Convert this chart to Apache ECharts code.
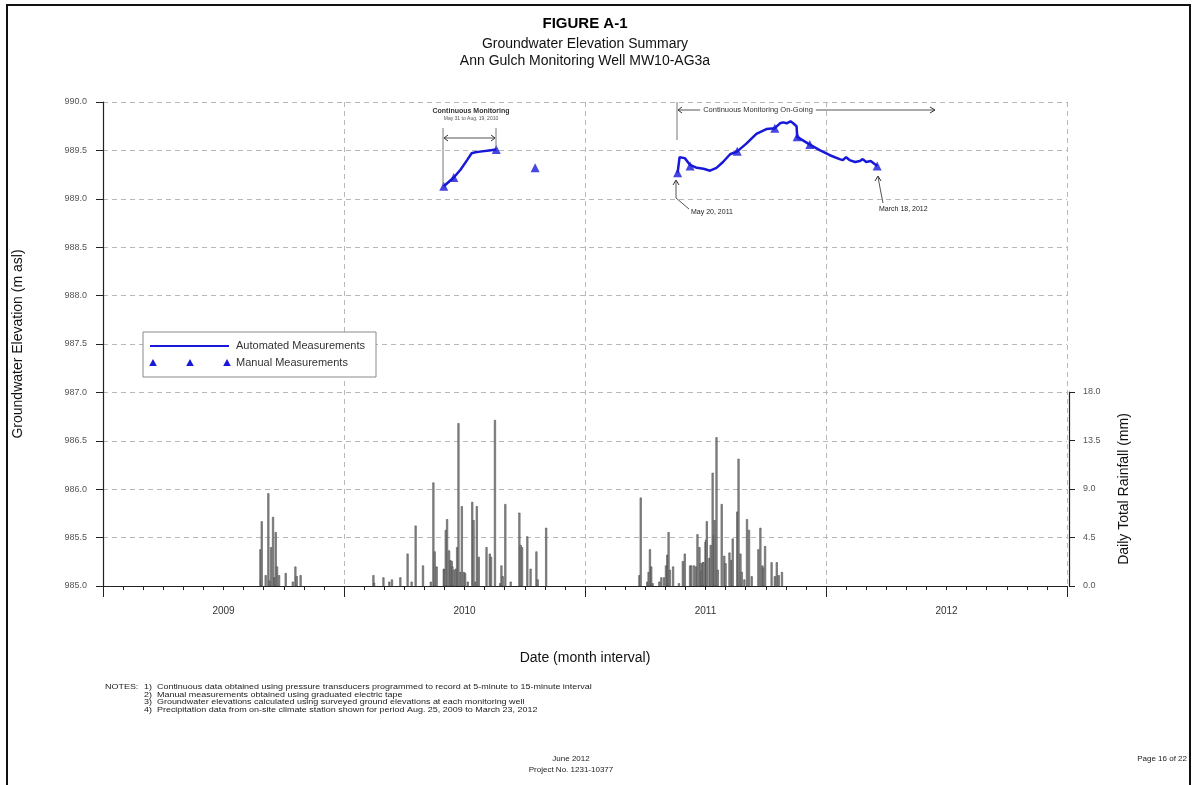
<!DOCTYPE html>
<html><head><meta charset="utf-8">
<script src="https://cdn.jsdelivr.net/npm/echarts@6/dist/echarts.min.js"></script>
<style>html,body{margin:0;padding:0;background:#fff}#c{width:1193px;height:785px}</style>
</head><body><div id="c"></div>
<script>
// ---------- DATA ----------
const yearLabels = ['2009','2010','2011','2012'];
const elevTicks = [985.0, 985.5, 986.0, 986.5, 987.0, 987.5, 988.0, 988.5, 989.0, 989.5, 990.0];
const rainTicks = [0.0, 4.5, 9.0, 13.5, 18.0];

const auto2010Dates = ['2010-05-31','2010-06-15','2010-06-25','2010-07-05','2010-07-12','2010-07-18','2010-07-28','2010-08-08','2010-08-19'];
const auto2010Elev  = [989.13, 989.22, 989.30, 989.40, 989.47, 989.48, 989.49, 989.50, 989.51];

const auto2011Dates = ['2011-05-20','2011-05-23','2011-05-26','2011-05-31','2011-06-08','2011-06-18','2011-06-28','2011-07-08','2011-07-18','2011-07-28','2011-08-08','2011-08-19','2011-09-02','2011-09-17','2011-10-02','2011-10-15','2011-10-23','2011-10-28','2011-11-02','2011-11-08','2011-11-12','2011-11-17','2011-11-18','2011-12-07','2011-12-23','2012-01-07','2012-01-22','2012-01-27','2012-02-01','2012-02-06','2012-02-14','2012-02-21','2012-02-25','2012-03-01','2012-03-08','2012-03-12','2012-03-18'];
const auto2011Elev  = [989.27, 989.43, 989.45, 989.42, 989.35, 989.32, 989.31, 989.29, 989.32, 989.38, 989.46, 989.49, 989.57, 989.67, 989.72, 989.73, 989.78, 989.79, 989.78, 989.80, 989.78, 989.75, 989.64, 989.56, 989.50, 989.45, 989.41, 989.40, 989.43, 989.40, 989.38, 989.39, 989.41, 989.38, 989.39, 989.37, 989.34];

const manualDates = ['2010-05-31','2010-06-15','2010-08-19','2010-10-17','2011-05-20','2011-06-08','2011-08-19','2011-10-15','2011-11-18','2011-12-07','2012-03-18'];
const manualElev  = [989.13, 989.22, 989.51, 989.32, 989.27, 989.34, 989.49, 989.73, 989.64, 989.56, 989.34];

const rainDates = [
 '2009-08-27','2009-08-28','2009-08-29','2009-09-04','2009-09-08','2009-09-10','2009-09-12','2009-09-15','2009-09-17','2009-09-19','2009-09-21','2009-09-24','2009-10-04','2009-10-15','2009-10-19','2009-10-21','2009-10-27',
 '2010-02-14','2010-02-15','2010-02-28','2010-03-09','2010-03-13','2010-03-26','2010-04-06','2010-04-12','2010-04-18','2010-04-29','2010-05-11','2010-05-15','2010-05-17','2010-05-20','2010-05-31','2010-06-01','2010-06-03','2010-06-05','2010-06-08','2010-06-10','2010-06-12','2010-06-13','2010-06-15','2010-06-18','2010-06-20','2010-06-22','2010-06-25','2010-06-27','2010-06-30','2010-07-02','2010-07-06','2010-07-13','2010-07-15','2010-07-18','2010-07-20','2010-07-23','2010-08-04','2010-08-09','2010-08-11','2010-08-17','2010-08-25','2010-08-27','2010-08-29','2010-09-02','2010-09-10','2010-09-23','2010-09-25','2010-09-27','2010-10-05','2010-10-10','2010-10-19','2010-10-21','2010-11-03',
 '2011-03-23','2011-03-25','2011-04-04','2011-04-06','2011-04-08','2011-04-10','2011-04-12','2011-04-22','2011-04-25','2011-04-29','2011-05-02','2011-05-04','2011-05-06','2011-05-08','2011-05-13','2011-05-22','2011-05-28','2011-05-31','2011-06-08','2011-06-10','2011-06-14','2011-06-17','2011-06-19','2011-06-22','2011-06-24','2011-06-25','2011-06-27','2011-06-28','2011-07-01','2011-07-02','2011-07-03','2011-07-07','2011-07-09','2011-07-12','2011-07-14','2011-07-15','2011-07-18','2011-07-20','2011-07-26','2011-07-30','2011-08-01','2011-08-07','2011-08-10','2011-08-12','2011-08-19','2011-08-21','2011-08-24','2011-08-26','2011-08-30','2011-09-03','2011-09-06','2011-09-10','2011-09-20','2011-09-23','2011-09-26','2011-09-27','2011-09-30','2011-10-10','2011-10-15','2011-10-18','2011-10-21','2011-10-26'
];
const rainMm = [
 3.4, 0.5, 6.0, 1.0, 8.6, 0.5, 3.6, 6.4, 0.8, 5.0, 1.8, 1.0, 1.2, 0.4, 1.8, 0.9, 1.0,
 1.0, 0.3, 0.8, 0.4, 0.6, 0.8, 3.0, 0.4, 5.6, 1.9, 0.4, 9.6, 3.2, 1.8, 1.6, 1.5, 5.2, 6.2, 3.3, 2.4, 2.3, 1.8, 1.5, 1.6, 3.6, 15.1, 1.3, 7.4, 1.3, 1.2, 0.4, 7.8, 6.1, 0.4, 7.4, 2.7, 3.6, 3.0, 2.7, 15.4, 0.25, 1.9, 0.9, 7.6, 0.4, 6.8, 3.8, 3.6, 4.6, 1.6, 3.2, 0.6, 5.4,
 1.0, 8.2, 0.4, 1.3, 3.4, 1.8, 0.25, 0.4, 0.8, 0.8, 1.9, 2.9, 5.0, 1.5, 1.8, 0.25, 2.3, 3.0, 1.9, 1.9, 1.9, 1.8, 4.8, 3.6, 2.1, 1.4, 2.2, 2.2, 4.1, 4.3, 6.0, 2.6, 3.8, 10.5, 4.7, 6.1, 13.8, 1.5, 7.6, 2.8, 2.1, 3.1, 2.4, 4.4, 6.9, 11.8, 3.0, 1.3, 0.6, 6.2, 5.2, 0.9, 3.4, 5.4, 1.9, 1.7, 3.7, 2.2, 0.9, 2.2, 1.0, 1.3
];

// ---------- HELPERS ----------
// months since 2009-01-01 (x axis unit)
function toM(s){
  const p = s.split('-').map(Number);
  const dim = new Date(p[0], p[1], 0).getDate();
  return (p[0]-2009)*12 + (p[1]-1) + (p[2]-1)/dim;
}
const pairs = (d, v) => d.map((s, i) => [toM(s), v[i]]);

const FONT = '"Liberation Sans", Arial, sans-serif';
const BLUE = '#1818d8';
const GRID = { left: 103, right: 126, top: 102, bottom: 199 };

const chart = echarts.init(document.getElementById('c'), null, { renderer: 'canvas' });

function tri(cx, cy, s){ return [[cx, cy - s], [cx + s*0.95, cy + s*0.75], [cx - s*0.95, cy + s*0.75]]; }
function ln(x1,y1,x2,y2,c,w){ return { type:'line', shape:{x1,y1,x2,y2}, style:{stroke:c||'#555', lineWidth:w||1}, z:20 }; }
function pl(pts,c,w){ return { type:'polyline', shape:{points:pts}, style:{stroke:c||'#555', lineWidth:w||1, fill:null}, z:20 }; }
function tx(x,y,t,o,extra){ return Object.assign({ type:'text', x, y, z:21, style:Object.assign({ text:t, font:'11px '+FONT, fill:'#222', textAlign:'left', textVerticalAlign:'middle' }, o||{}) }, extra||{}); }

const notes = [
 '1)  Continuous data obtained using pressure transducers programmed to record at 5-minute to 15-minute interval',
 '2)  Manual measurements obtained using graduated electric tape',
 '3)  Groundwater elevations calculated using surveyed ground elevations at each monitoring well',
 '4)  Precipitation data from on-site climate station shown for period Aug. 25, 2009 to March 23, 2012'
];
const NOTE_STYLE = { font:'8px '+FONT, fill:'#222' };
const NOTE_SCALE = { scaleX:1.12 };

const graphics = [
  { type:'rect', shape:{x:7, y:5, width:1183, height:800}, style:{stroke:'#111', lineWidth:2, fill:null}, z:30 },
  tx(585, 24, 'FIGURE A-1', { font:'bold 15px '+FONT, textAlign:'center', fill:'#000' }),
  tx(585, 44, 'Groundwater Elevation Summary', { font:'14px '+FONT, textAlign:'center', fill:'#111' }),
  tx(585, 61, 'Ann Gulch Monitoring Well MW10-AG3a', { font:'14px '+FONT, textAlign:'center', fill:'#111' }),
  // legend
  { type:'rect', shape:{x:143, y:332, width:233, height:45}, style:{stroke:'#8a8a8a', lineWidth:1, fill:'#fff'}, z:15 },
  ln(150, 346, 229, 346, BLUE, 2),
  tx(236, 346, 'Automated Measurements', { font:'11px '+FONT, fill:'#333' }),
  { type:'polygon', shape:{points:tri(153,363,4)}, style:{fill:BLUE}, z:20 },
  { type:'polygon', shape:{points:tri(190,363,4)}, style:{fill:BLUE}, z:20 },
  { type:'polygon', shape:{points:tri(227,363,4)}, style:{fill:BLUE}, z:20 },
  tx(236, 363, 'Manual Measurements', { font:'11px '+FONT, fill:'#333' }),
  // 2010 annotation
  tx(471, 111, 'Continuous Monitoring', { font:'bold 7px '+FONT, textAlign:'center', fill:'#333' }),
  tx(471, 119, 'May 31 to Aug. 19, 2010', { font:'5px '+FONT, textAlign:'center', fill:'#555' }),
  ln(443, 128, 443, 185, '#777', 1),
  ln(496, 128, 496, 148, '#777', 1),
  ln(444, 138, 495, 138, '#555', 1),
  pl([[448,135],[444,138],[448,141]], '#333', 1),
  pl([[491,135],[495,138],[491,141]], '#333', 1),
  // 2011 annotation
  ln(677, 102, 677, 140, '#777', 1),
  ln(678, 110, 935, 110, '#555', 1),
  pl([[682,107],[678,110],[682,113]], '#333', 1),
  pl([[930,107],[935,110],[930,113]], '#333', 1),
  tx(758, 110, 'Continuous Monitoring On-Going', { font:'7.5px '+FONT, textAlign:'center', fill:'#333', backgroundColor:'#fff', padding:[1,3] }),
  ln(676, 181, 676, 198, '#555', 1),
  ln(676, 198, 689, 209, '#555', 1),
  pl([[673,185],[676,180],[679,185]], '#333', 1),
  tx(691, 212, 'May 20, 2011', { font:'7px '+FONT, fill:'#222' }),
  pl([[878,177],[881,193],[883,203]], '#555', 1),
  pl([[875,181],[878,176],[881,181]], '#333', 1),
  tx(879, 209, 'March 18, 2012', { font:'7px '+FONT, fill:'#222' }),
  // notes
  tx(105, 687, 'NOTES:', NOTE_STYLE, NOTE_SCALE),
  tx(144, 687, notes[0], NOTE_STYLE, NOTE_SCALE),
  tx(144, 694.5, notes[1], NOTE_STYLE, NOTE_SCALE),
  tx(144, 702, notes[2], NOTE_STYLE, NOTE_SCALE),
  tx(144, 709.5, notes[3], NOTE_STYLE, NOTE_SCALE),
  // footer
  tx(571, 759, 'June 2012', { font:'8px '+FONT, textAlign:'center', fill:'#222' }),
  tx(571, 770, 'Project No. 1231-10377', { font:'8px '+FONT, textAlign:'center', fill:'#222' }),
  tx(1187, 759, 'Page 16 of 22', { font:'8px '+FONT, textAlign:'right', fill:'#222' })
];

const option = {
  animation: false,
  backgroundColor: '#fff',
  textStyle: { fontFamily: FONT },
  grid: [
    { left: GRID.left, right: GRID.right, top: GRID.top, bottom: GRID.bottom },
    { left: GRID.left, right: GRID.right, top: 392, bottom: GRID.bottom }
  ],
  xAxis: [
    { // monthly ticks + year labels
      type:'value', gridIndex:0, min:0, max:48, interval:1, position:'bottom',
      axisLine:{ show:true, onZero:false, lineStyle:{ color:'#222', width:1 } },
      axisTick:{ show:true, length:4, lineStyle:{ color:'#222' } },
      axisLabel:{ show:true, margin:20, fontSize:10, color:'#333', fontFamily:FONT,
        formatter: v => (Math.round(v) % 12 === 6) ? yearLabels[Math.floor(Math.round(v)/12)] : '' },
      splitLine:{ show:false },
      name:'Date (month interval)', nameLocation:'middle', nameGap:65,
      nameTextStyle:{ fontSize:14, color:'#111', fontFamily:FONT }
    },
    { // yearly gridlines + long ticks
      type:'value', gridIndex:0, min:0, max:48, interval:12, position:'bottom',
      axisLine:{ show:false },
      axisTick:{ show:true, length:11, lineStyle:{ color:'#222' } },
      axisLabel:{ show:false },
      splitLine:{ show:true, lineStyle:{ color:'#b8b8b8', type:[5,4], width:1 } }
    },
    { type:'value', gridIndex:1, min:0, max:48, show:false }
  ],
  yAxis: [
    {
      type:'value', gridIndex:0, min:985, max:990, interval:0.5, position:'left',
      axisLine:{ show:true, onZero:false, lineStyle:{ color:'#222', width:1.2 } },
      axisTick:{ show:true, length:7, lineStyle:{ color:'#222' } },
      axisLabel:{ margin:16, fontSize:9, color:'#555', fontFamily:FONT, formatter: v => v.toFixed(1) },
      splitLine:{ show:true, lineStyle:{ color:'#b8b8b8', type:[5,4], width:1 } },
      name:'Groundwater Elevation (m asl)', nameLocation:'middle', nameGap:78, nameRotate:90,
      nameTextStyle:{ fontSize:14, color:'#111', fontFamily:FONT }
    },
    {
      type:'value', gridIndex:1, min:0, max:18, interval:4.5, position:'right', offset:2,
      axisLine:{ show:true, onZero:false, lineStyle:{ color:'#222', width:1.2 } },
      axisTick:{ show:true, length:6, lineStyle:{ color:'#222' } },
      axisLabel:{ margin:14, fontSize:9, color:'#555', fontFamily:FONT, formatter: v => v.toFixed(1) },
      splitLine:{ show:false },
      name:'Daily Total Rainfall (mm)', nameLocation:'middle', nameGap:48, nameRotate:90,
      nameTextStyle:{ fontSize:14, color:'#111', fontFamily:FONT }
    }
  ],
  series: [
    { name:'Rainfall', type:'bar', xAxisIndex:2, yAxisIndex:1, barWidth:2,
      data: pairs(rainDates, rainMm),
      itemStyle:{ color:'#8e8e8e', borderColor:'#3a3a3a', borderWidth:0.5 }, z:3 },
    { name:'Automated Measurements', type:'line', xAxisIndex:0, yAxisIndex:0, showSymbol:false,
      data: pairs(auto2010Dates, auto2010Elev), lineStyle:{ color:BLUE, width:2.5 }, z:5 },
    { name:'Automated Measurements 2011', type:'line', xAxisIndex:0, yAxisIndex:0, showSymbol:false,
      data: pairs(auto2011Dates, auto2011Elev), lineStyle:{ color:BLUE, width:2.5 }, z:5 },
    { name:'Manual Measurements', type:'scatter', xAxisIndex:0, yAxisIndex:0, symbol:'triangle', symbolSize:9,
      data: pairs(manualDates, manualElev), itemStyle:{ color:BLUE }, z:6 }
  ],
  graphic: graphics
};
chart.setOption(option);
</script></body></html>
